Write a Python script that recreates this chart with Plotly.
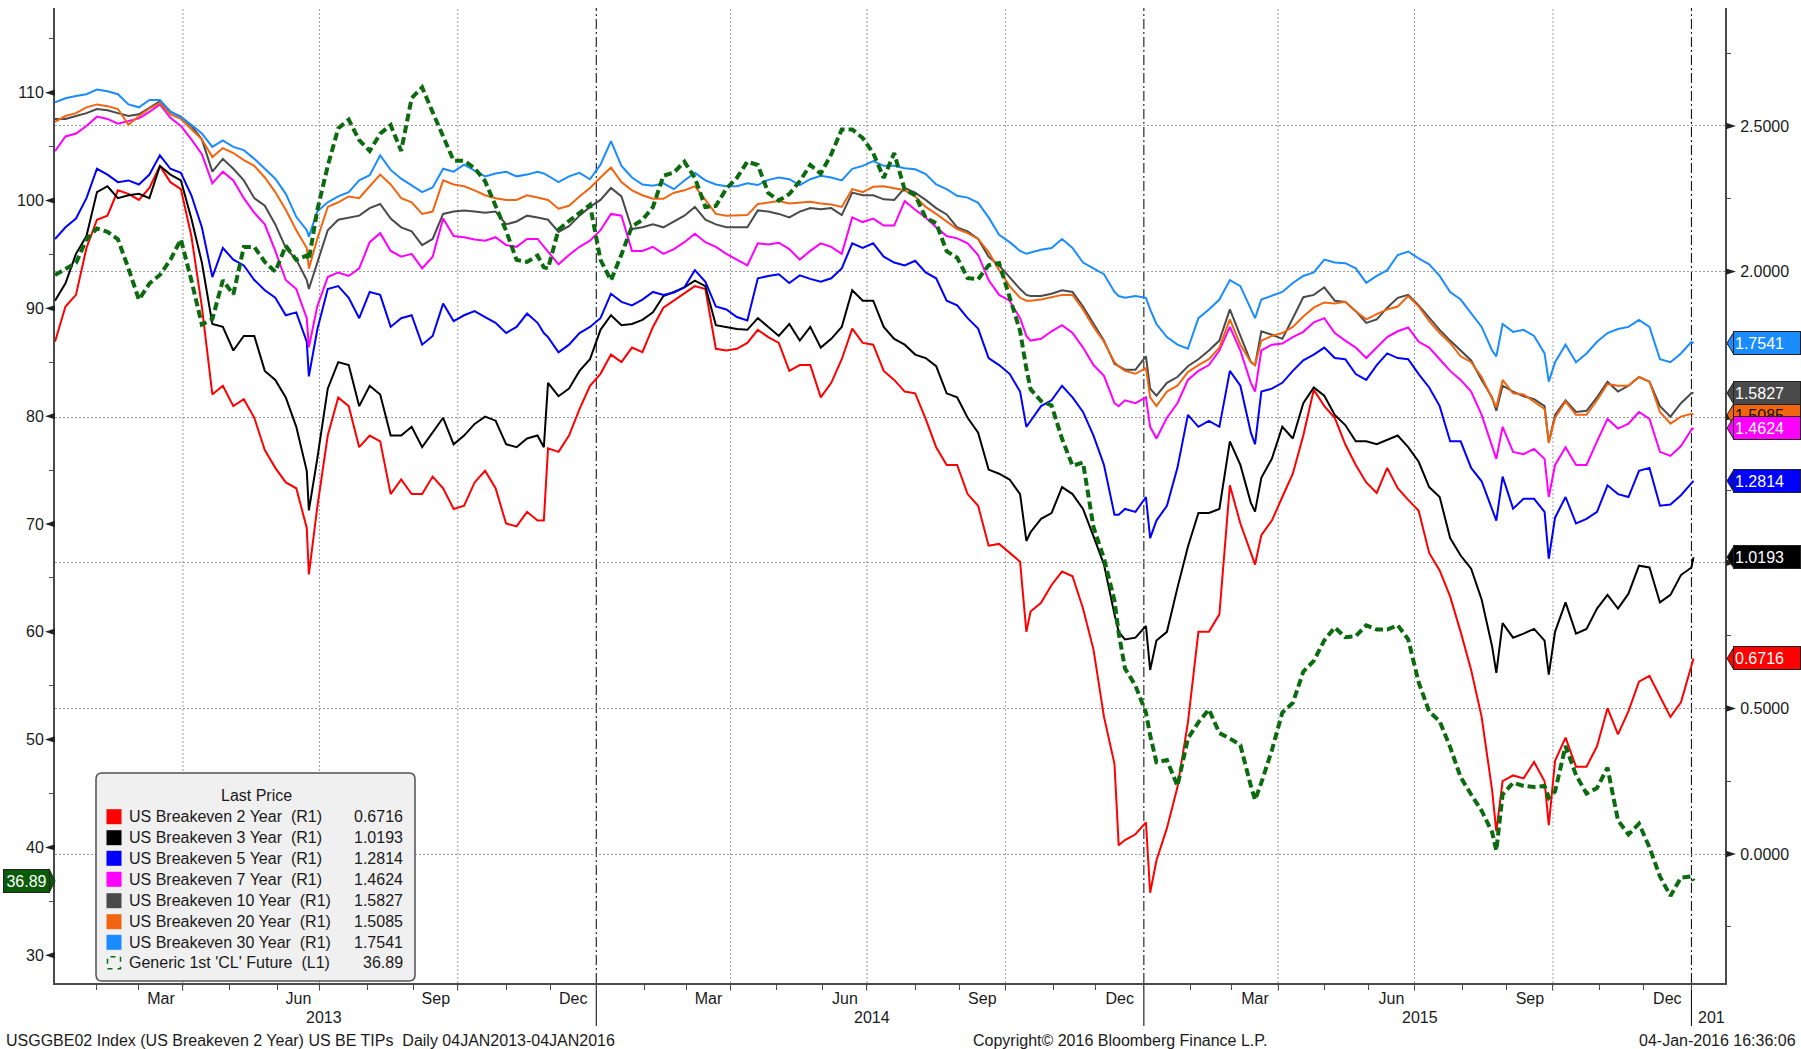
import pandas as pd
import plotly.graph_objects as go

# ---------------- data ----------------
# weekly readings: Fridays from 04-Jan-2013 to 01-Jan-2016 (157 points)
week_start = "2013-01-04"
n_weeks = 157
# extra readings at notable turning points plus the last day
extra_dates = ["2013-06-24", "2013-11-27", "2014-10-15", "2014-12-16", "2015-01-06",
               "2015-03-17", "2015-08-25", "2015-09-29", "2016-01-04"]

be2_w = [1.759, 1.880, 1.920, 2.081, 2.178, 2.192, 2.279, 2.267, 2.246, 2.287,
         2.363, 2.307, 2.283, 2.122, 1.880, 1.578, 1.608, 1.538, 1.562, 1.498,
         1.387, 1.326, 1.276, 1.256, 1.120, 1.190, 1.437, 1.568, 1.538, 1.397,
         1.437, 1.417, 1.236, 1.286, 1.236, 1.236, 1.296, 1.256, 1.185, 1.196,
         1.276, 1.316, 1.256, 1.135, 1.125, 1.175, 1.145, 1.393, 1.381, 1.437,
         1.528, 1.608, 1.649, 1.715, 1.689, 1.739, 1.723, 1.810, 1.876, 1.900,
         1.924, 1.950, 1.940, 1.735, 1.729, 1.735, 1.755, 1.800, 1.775, 1.755,
         1.659, 1.679, 1.679, 1.568, 1.618, 1.699, 1.804, 1.755, 1.749, 1.659,
         1.628, 1.588, 1.582, 1.494, 1.397, 1.336, 1.336, 1.236, 1.196, 1.059,
         1.065, 1.035, 1.004, 0.833, 0.863, 0.924, 0.970, 0.954, 0.843, 0.702,
         0.471, 0.310, 0.048, 0.068, 0.109, -0.022, 0.089, 0.229, 0.451, 0.763,
         0.763, 0.823, 1.266, 1.135, 1.035, 1.095, 1.145, 1.226, 1.306, 1.437,
         1.594, 1.538, 1.498, 1.407, 1.336, 1.276, 1.240, 1.326, 1.256, 1.216,
         1.179, 1.034, 0.974, 0.884, 0.763, 0.632, 0.471, 0.219, 0.250, 0.270,
         0.260, 0.316, 0.250, 0.320, 0.400, 0.300, 0.300, 0.370, 0.501, 0.411,
         0.491, 0.592, 0.612, 0.541, 0.471, 0.521, 0.652]
be2_x = [0.96, 1.145, 0.763, 0.03, -0.133, 0.994, 0.078, 0.099, 0.6716]

be3_w = [1.900, 1.960, 2.061, 2.122, 2.273, 2.293, 2.252, 2.262, 2.267, 2.252,
         2.363, 2.333, 2.313, 2.182, 2.031, 1.820, 1.810, 1.729, 1.779, 1.779,
         1.659, 1.628, 1.568, 1.467, 1.316, 1.357, 1.598, 1.689, 1.679, 1.538,
         1.608, 1.578, 1.437, 1.437, 1.467, 1.397, 1.447, 1.498, 1.407, 1.437,
         1.477, 1.502, 1.488, 1.407, 1.397, 1.427, 1.437, 1.618, 1.572, 1.598,
         1.659, 1.699, 1.800, 1.850, 1.816, 1.820, 1.834, 1.860, 1.916, 1.930,
         1.946, 1.969, 1.950, 1.816, 1.810, 1.803, 1.800, 1.840, 1.810, 1.779,
         1.820, 1.763, 1.810, 1.739, 1.769, 1.810, 1.936, 1.900, 1.900, 1.810,
         1.769, 1.749, 1.715, 1.703, 1.675, 1.582, 1.568, 1.498, 1.447, 1.320,
         1.306, 1.286, 1.236, 1.105, 1.151, 1.171, 1.260, 1.236, 1.185, 1.091,
         0.994, 0.823, 0.737, 0.743, 0.783, 0.733, 0.763, 0.914, 1.055, 1.171,
         1.171, 1.185, 1.417, 1.336, 1.206, 1.292, 1.357, 1.467, 1.427, 1.548,
         1.602, 1.574, 1.508, 1.473, 1.417, 1.417, 1.407, 1.421, 1.437, 1.397,
         1.347, 1.260, 1.226, 1.085, 1.025, 0.980, 0.874, 0.713, 0.793, 0.743,
         0.757, 0.773, 0.733, 0.763, 0.864, 0.757, 0.773, 0.843, 0.890, 0.843,
         0.894, 0.990, 0.984, 0.864, 0.890, 0.958, 0.984]
be3_x = [1.18, 1.397, 1.075, 0.763, 0.632, 1.176, 0.622, 0.616, 1.0193]

be5_w = [2.112, 2.152, 2.182, 2.252, 2.353, 2.333, 2.307, 2.313, 2.299, 2.333,
         2.399, 2.353, 2.339, 2.262, 2.152, 1.981, 2.081, 2.041, 2.021, 1.971,
         1.936, 1.910, 1.850, 1.860, 1.759, 1.800, 1.940, 1.950, 1.910, 1.840,
         1.930, 1.920, 1.810, 1.840, 1.850, 1.749, 1.779, 1.890, 1.830, 1.850,
         1.864, 1.844, 1.824, 1.789, 1.810, 1.856, 1.824, 1.775, 1.723, 1.749,
         1.789, 1.810, 1.840, 1.924, 1.896, 1.884, 1.904, 1.930, 1.920, 1.928,
         1.946, 2.005, 1.965, 1.880, 1.870, 1.844, 1.832, 1.977, 1.985, 1.991,
         1.961, 1.987, 1.975, 1.965, 1.977, 2.011, 2.097, 2.081, 2.097, 2.051,
         2.031, 2.021, 2.037, 1.997, 1.977, 1.900, 1.884, 1.840, 1.804, 1.703,
         1.679, 1.649, 1.588, 1.487, 1.538, 1.558, 1.608, 1.568, 1.518, 1.437,
         1.336, 1.165, 1.185, 1.175, 1.226, 1.145, 1.196, 1.326, 1.508, 1.467,
         1.487, 1.467, 1.659, 1.608, 1.447, 1.588, 1.598, 1.618, 1.659, 1.695,
         1.715, 1.739, 1.703, 1.699, 1.648, 1.628, 1.679, 1.719, 1.703, 1.699,
         1.648, 1.602, 1.538, 1.417, 1.417, 1.326, 1.280, 1.186, 1.296, 1.186,
         1.220, 1.220, 1.175, 1.155, 1.226, 1.135, 1.151, 1.175, 1.266, 1.236,
         1.226, 1.316, 1.326, 1.196, 1.200, 1.232, 1.276]
be5_x = [1.64, 1.789, 1.467, 1.165, 1.085, 1.407, 1.145, 1.014, 1.2814]

be7_w = [2.413, 2.464, 2.474, 2.500, 2.532, 2.524, 2.508, 2.516, 2.526, 2.548,
         2.574, 2.528, 2.500, 2.454, 2.403, 2.303, 2.343, 2.313, 2.252, 2.202,
         2.162, 2.071, 1.971, 1.940, 1.840, 1.880, 1.981, 1.997, 1.985, 2.011,
         2.101, 2.132, 2.071, 2.051, 2.061, 2.011, 2.051, 2.182, 2.122, 2.118,
         2.110, 2.106, 2.118, 2.091, 2.085, 2.112, 2.112, 2.071, 2.025, 2.057,
         2.085, 2.106, 2.142, 2.198, 2.192, 2.071, 2.071, 2.085, 2.061, 2.077,
         2.101, 2.130, 2.101, 2.085, 2.061, 2.041, 2.021, 2.097, 2.093, 2.099,
         2.077, 2.041, 2.071, 2.097, 2.085, 2.061, 2.186, 2.170, 2.182, 2.158,
         2.158, 2.242, 2.212, 2.186, 2.152, 2.122, 2.114, 2.097, 2.057, 1.971,
         1.920, 1.900, 1.840, 1.763, 1.769, 1.795, 1.816, 1.789, 1.739, 1.679,
         1.642, 1.548, 1.558, 1.548, 1.568, 1.427, 1.498, 1.548, 1.628, 1.659,
         1.679, 1.729, 1.810, 1.729, 1.618, 1.729, 1.749, 1.753, 1.775, 1.793,
         1.826, 1.840, 1.789, 1.763, 1.739, 1.703, 1.739, 1.775, 1.795, 1.808,
         1.759, 1.739, 1.699, 1.659, 1.628, 1.588, 1.508, 1.397, 1.467, 1.381,
         1.373, 1.391, 1.357, 1.336, 1.397, 1.336, 1.336, 1.417, 1.494, 1.461,
         1.478, 1.518, 1.494, 1.381, 1.367, 1.401, 1.457]
be7_x = [1.74, 2.085, 1.779, 1.538, 1.467, 1.588, 1.357, 1.226, 1.4624]

be10_w = [2.524, 2.524, 2.534, 2.544, 2.558, 2.554, 2.544, 2.534, 2.540, 2.564,
          2.585, 2.548, 2.532, 2.500, 2.454, 2.343, 2.387, 2.353, 2.313, 2.252,
          2.226, 2.162, 2.081, 2.041, 1.971, 2.031, 2.142, 2.178, 2.186, 2.192,
          2.218, 2.232, 2.182, 2.152, 2.138, 2.091, 2.112, 2.198, 2.206, 2.210,
          2.206, 2.202, 2.206, 2.162, 2.172, 2.192, 2.186, 2.178, 2.136, 2.156,
          2.192, 2.222, 2.246, 2.287, 2.258, 2.146, 2.152, 2.162, 2.152, 2.172,
          2.192, 2.222, 2.178, 2.162, 2.152, 2.152, 2.152, 2.210, 2.206, 2.198,
          2.186, 2.206, 2.218, 2.214, 2.218, 2.194, 2.271, 2.262, 2.262, 2.248,
          2.246, 2.287, 2.271, 2.246, 2.218, 2.196, 2.152, 2.138, 2.112, 2.051,
          2.021, 1.981, 1.940, 1.916, 1.916, 1.924, 1.936, 1.930, 1.880, 1.820,
          1.763, 1.683, 1.663, 1.663, 1.709, 1.574, 1.618, 1.638, 1.675, 1.699,
          1.729, 1.763, 1.870, 1.779, 1.689, 1.795, 1.783, 1.769, 1.840, 1.912,
          1.920, 1.946, 1.900, 1.896, 1.864, 1.824, 1.836, 1.876, 1.910, 1.920,
          1.884, 1.840, 1.800, 1.763, 1.729, 1.695, 1.628, 1.568, 1.608, 1.588,
          1.572, 1.562, 1.538, 1.508, 1.558, 1.518, 1.522, 1.568, 1.622, 1.588,
          1.608, 1.638, 1.622, 1.538, 1.502, 1.548, 1.582]
be10_x = [1.94, 2.182, 1.920, 1.675, 1.598, 1.679, 1.522, 1.413, 1.5827]

be20_w = [2.514, 2.534, 2.544, 2.564, 2.574, 2.568, 2.558, 2.504, 2.534, 2.560,
          2.579, 2.540, 2.524, 2.488, 2.454, 2.393, 2.424, 2.407, 2.383, 2.363,
          2.323, 2.273, 2.212, 2.142, 2.081, 2.112, 2.222, 2.238, 2.258, 2.252,
          2.293, 2.333, 2.299, 2.252, 2.238, 2.198, 2.206, 2.313, 2.299, 2.293,
          2.279, 2.262, 2.252, 2.246, 2.246, 2.262, 2.254, 2.246, 2.216, 2.226,
          2.258, 2.287, 2.323, 2.357, 2.307, 2.279, 2.262, 2.250, 2.250, 2.271,
          2.279, 2.293, 2.246, 2.198, 2.192, 2.192, 2.194, 2.232, 2.238, 2.242,
          2.234, 2.238, 2.240, 2.234, 2.230, 2.222, 2.283, 2.273, 2.291, 2.293,
          2.287, 2.279, 2.258, 2.222, 2.198, 2.172, 2.146, 2.132, 2.112, 2.067,
          2.005, 1.950, 1.910, 1.900, 1.904, 1.912, 1.920, 1.920, 1.870, 1.810,
          1.759, 1.689, 1.659, 1.649, 1.669, 1.538, 1.588, 1.608, 1.655, 1.679,
          1.699, 1.739, 1.836, 1.749, 1.689, 1.763, 1.779, 1.789, 1.810, 1.846,
          1.876, 1.894, 1.890, 1.896, 1.864, 1.836, 1.854, 1.870, 1.880, 1.916,
          1.880, 1.830, 1.789, 1.755, 1.709, 1.689, 1.638, 1.562, 1.628, 1.582,
          1.578, 1.554, 1.528, 1.498, 1.554, 1.508, 1.508, 1.558, 1.614, 1.608,
          1.608, 1.638, 1.622, 1.518, 1.478, 1.502, 1.512]
be20_x = [2.01, 2.250, 1.900, 1.675, 1.568, 1.679, 1.534, 1.413, 1.5085]

be30_w = [2.581, 2.595, 2.603, 2.609, 2.625, 2.619, 2.609, 2.574, 2.564, 2.589,
          2.589, 2.550, 2.530, 2.504, 2.474, 2.428, 2.450, 2.428, 2.417, 2.387,
          2.353, 2.319, 2.267, 2.188, 2.142, 2.206, 2.238, 2.258, 2.273, 2.313,
          2.331, 2.399, 2.349, 2.319, 2.297, 2.273, 2.289, 2.353, 2.343, 2.367,
          2.347, 2.327, 2.337, 2.343, 2.327, 2.333, 2.343, 2.329, 2.307, 2.327,
          2.339, 2.317, 2.367, 2.448, 2.363, 2.323, 2.299, 2.295, 2.303, 2.283,
          2.313, 2.339, 2.313, 2.299, 2.293, 2.293, 2.303, 2.297, 2.315, 2.323,
          2.317, 2.297, 2.317, 2.329, 2.323, 2.313, 2.353, 2.363, 2.379, 2.363,
          2.363, 2.355, 2.351, 2.335, 2.299, 2.283, 2.260, 2.254, 2.236, 2.186,
          2.126, 2.101, 2.071, 2.065, 2.075, 2.081, 2.112, 2.081, 2.031, 2.011,
          1.991, 1.930, 1.910, 1.916, 1.910, 1.820, 1.775, 1.749, 1.735, 1.840,
          1.870, 1.904, 1.971, 1.950, 1.870, 1.904, 1.916, 1.930, 1.961, 1.985,
          1.997, 2.041, 2.031, 2.029, 2.011, 1.961, 1.985, 2.005, 2.057, 2.069,
          2.045, 2.025, 1.985, 1.930, 1.904, 1.856, 1.810, 1.729, 1.820, 1.793,
          1.800, 1.779, 1.719, 1.689, 1.749, 1.689, 1.719, 1.759, 1.789, 1.803,
          1.810, 1.834, 1.810, 1.699, 1.689, 1.719, 1.759]
be30_x = [2.12, 2.337, 2.061, 1.916, 1.870, 1.840, 1.709, 1.622, 1.7541]

cl_w = [93.1, 93.7, 94.2, 96.4, 97.4, 97.1, 96.4, 93.7, 90.8, 92.3,
        93.1, 94.5, 96.4, 92.6, 88.5, 89.0, 92.6, 91.3, 95.7, 95.7,
        94.3, 93.4, 95.8, 94.5, 94.9, 99.1, 103.2, 106.7, 107.5, 105.6,
        104.6, 106.2, 107.0, 104.6, 109.5, 110.5, 108.2, 105.9, 103.7, 103.7,
        103.0, 101.8, 99.5, 97.2, 94.5, 94.3, 94.9, 93.7, 97.3, 98.1,
        98.8, 99.6, 94.5, 92.6, 95.0, 97.6, 98.2, 99.4, 102.3, 102.6,
        103.6, 102.1, 99.4, 99.5, 101.1, 102.1, 103.6, 103.3, 100.7, 100.0,
        100.6, 101.8, 103.3, 102.5, 104.3, 106.6, 106.6, 105.8, 104.4, 102.1,
        104.4, 101.0, 100.5, 98.4, 97.9, 95.3, 94.7, 92.8, 92.7, 94.0,
        94.2, 90.9, 87.9, 82.5, 81.4, 81.0, 77.9, 75.4, 75.7, 69.7,
        66.8, 62.9, 56.6, 55.0, 52.5, 47.9, 48.1, 45.7, 50.1, 51.6,
        52.8, 50.6, 50.1, 49.5, 45.7, 46.0, 49.0, 52.5, 53.4, 56.3,
        57.3, 59.2, 60.4, 59.5, 59.6, 60.6, 60.2, 60.2, 60.6, 59.3,
        55.3, 52.6, 51.7, 49.3, 46.5, 44.9, 43.4, 41.4, 44.9, 46.0,
        45.7, 45.6, 45.7, 45.2, 49.4, 46.7, 45.0, 45.5, 47.4, 42.5,
        41.2, 42.2, 40.0, 37.3, 35.5, 37.2, 37.3]
cl_x = [94.5, 93.8, 84.4, 59.9, 50.4, 44.4, 39.7, 44.6, 36.89]

be_names = ["US Breakeven 2 Year", "US Breakeven 3 Year", "US Breakeven 5 Year",
            "US Breakeven 7 Year", "US Breakeven 10 Year", "US Breakeven 20 Year",
            "US Breakeven 30 Year"]
cl_name = "Generic 1st 'CL' Future"
right_ticks = [0.0, 0.5, 1.0, 1.5, 2.0, 2.5]
left_ticks = [30, 40, 50, 60, 70, 80, 90, 100, 110]
month_label_months = [3, 6, 9, 12]
year_labels = ["2013", "2014", "2015"]

# ---------------- assemble the series tables ----------------
week_dates = list(pd.date_range(week_start, periods=n_weeks, freq="7D"))
all_dates = week_dates + list(pd.to_datetime(extra_dates))


def build(weekly, extra):
    assert len(weekly) == n_weeks and len(extra) == len(extra_dates)
    s = pd.Series(weekly + extra, index=all_dates).sort_index()
    return s


be_series = [build(w, x) for w, x in [(be2_w, be2_x), (be3_w, be3_x), (be5_w, be5_x),
                                      (be7_w, be7_x), (be10_w, be10_x), (be20_w, be20_x),
                                      (be30_w, be30_x)]]
cl_series = build(cl_w, cl_x)

# ---------------- styling / geometry ----------------
W, H = 1801, 1049
ML, MR, MT, MB = 55, 76, 8, 66
PW, PH = W - ML - MR, H - MT - MB
R_RANGE = [-0.4427, 2.905]
L_RANGE = [27.42, 117.86]
r_px = (R_RANGE[1] - R_RANGE[0]) / PH
l_px = (L_RANGE[1] - L_RANGE[0]) / PH


def fx(px):
    return (px - ML) / PW


def fy(py):
    return (H - MB - py) / PH


FONT = "Liberation Sans, Arial, sans-serif"
TXT = "#1a1a1a"
AXC = "#4a4a4a"
GRID = "#9a9a9a"
GREEN = "#0c6b0f"
GREEN_LBL = "#0a5a0a"
be_colors = ["#ff0000", "#000000", "#0000ff", "#ff00ff", "#4a4a4a", "#f26510", "#1a8cff"]

fig = go.Figure()
for n, s, c in zip(be_names, be_series, be_colors):
    fig.add_trace(go.Scatter(x=s.index, y=s.values, name=n, mode="lines", yaxis="y",
                             line=dict(color=c, width=2), showlegend=False, hoverinfo="skip"))
fig.add_trace(go.Scatter(x=cl_series.index, y=cl_series.values, name=cl_name, mode="lines",
                         yaxis="y2", line=dict(color=GREEN, width=4, dash="8px,4px"),
                         showlegend=False, hoverinfo="skip"))

# ---------------- x axis helpers ----------------
month_starts = list(pd.date_range("2013-02-01", "2016-01-01", freq="BMS"))
label_months = [m for m in pd.date_range("2013-01-01", "2015-12-01", freq="MS")
                if m.month in month_label_months]


def mid_month(m):
    b = pd.bdate_range(m, m + pd.offsets.MonthEnd(0))
    n = len(b)
    d = b[n // 2]
    if n % 2:
        d = d + pd.Timedelta(hours=12)
    return d


mids = [mid_month(m) for m in label_months]
quarter_lines = [m for m in month_starts if m.month in (4, 7, 10)]
year_lines = [m for m in month_starts if m.month == 1]

shapes = []
for q in quarter_lines:
    shapes.append(dict(type="line", xref="x", yref="paper", x0=q, x1=q, y0=fy(991), y1=1,
                       line=dict(color=GRID, width=1, dash="2px,2px"), layer="below"))
for yl in year_lines:
    shapes.append(dict(type="line", xref="x", yref="paper", x0=yl, x1=yl, y0=0, y1=1,
                       line=dict(color="#000000", width=1, dash="10px,3px,2px,3px"), layer="below"))
    shapes.append(dict(type="line", xref="x", yref="paper", x0=yl, x1=yl, y0=0, y1=fy(1026),
                       line=dict(color="#000000", width=1), layer="below"))

# axis tick wedges
lp = ""
for v in left_ticks:
    lp += f"M{fx(45)},{v} L{fx(55)},{v + 3.2 * l_px} L{fx(55)},{v - 3.2 * l_px} Z "
shapes.append(dict(type="path", xref="paper", yref="y2", path=lp, fillcolor="#222222",
                   line=dict(width=0), layer="above"))
rp = ""
for v in right_ticks:
    rp += f"M{fx(1736)},{v} L{fx(1726)},{v + 3.2 * r_px} L{fx(1726)},{v - 3.2 * r_px} Z "
shapes.append(dict(type="path", xref="paper", yref="y", path=rp, fillcolor="#222222",
                   line=dict(width=0), layer="above"))

annotations = []

# right-side last value labels (20Y sits beneath 10Y / 7Y as in the original)
label_order = [6, 5, 4, 3, 2, 1, 0]
label_fg = {0: "white", 1: "white", 2: "white", 3: "white", 4: "white", 5: "#111111", 6: "white"}
for i in label_order:
    v = float(be_series[i].iloc[-1])
    c = be_colors[i]
    shapes.append(dict(type="path", xref="paper", yref="y",
                       path=f"M{fx(1727)},{v} L{fx(1734)},{v + 11.5 * r_px} L{fx(1734)},{v - 11.5 * r_px} Z",
                       fillcolor=c, line=dict(color="#222222", width=1), layer="above"))
    annotations.append(dict(xref="paper", yref="y", x=fx(1733), y=v, xanchor="left", yanchor="middle",
                            text=f"{v:.4f}", showarrow=False, align="left",
                            font=dict(family=FONT, size=16, color=label_fg[i]),
                            bgcolor=c, bordercolor="#222222", borderwidth=1, borderpad=1,
                            width=64, height=20))

# left-side last value label
vcl = float(cl_series.iloc[-1])
shapes.append(dict(type="path", xref="paper", yref="y2",
                   path=f"M{fx(55)},{vcl} L{fx(49)},{vcl + 12 * l_px} L{fx(49)},{vcl - 12 * l_px} Z",
                   fillcolor=GREEN_LBL, line=dict(color="#222222", width=1), layer="above"))
annotations.append(dict(xref="paper", yref="y2", x=fx(50), y=vcl, xanchor="right", yanchor="middle",
                        text=f"{vcl:.2f}", showarrow=False, align="center",
                        font=dict(family=FONT, size=16, color="white"),
                        bgcolor=GREEN_LBL, bordercolor="#222222", borderwidth=1, borderpad=1,
                        width=43, height=20))


# ---------------- legend box ----------------
def rrect(x0, y0, x1, y1, r):
    pts = [
        ("M", (x0 + r, y0)), ("L", (x1 - r, y0)), ("Q", (x1, y0), (x1, y0 + r)),
        ("L", (x1, y1 - r)), ("Q", (x1, y1), (x1 - r, y1)), ("L", (x0 + r, y1)),
        ("Q", (x0, y1), (x0, y1 - r)), ("L", (x0, y0 + r)), ("Q", (x0, y0), (x0 + r, y0)),
    ]
    s = ""
    for p in pts:
        coords = " ".join(f"{fx(a)},{fy(b)}" for a, b in p[1:])
        s += f"{p[0]}{coords} "
    return s + "Z"


shapes.append(dict(type="path", xref="paper", yref="paper", path=rrect(96, 773, 415, 981, 6),
                   fillcolor="#f0f0f0", line=dict(color="#505050", width=1.5), layer="above"))
annotations.append(dict(xref="paper", yref="paper", x=fx(256), y=fy(795), text="Last Price",
                        showarrow=False, xanchor="center", yanchor="middle",
                        font=dict(family=FONT, size=16, color=TXT)))
row_y = [816.7, 837.7, 858.3, 879.3, 900.7, 921.7, 942.3, 962.7]
for k in range(7):
    yc = row_y[k]
    shapes.append(dict(type="rect", xref="paper", yref="paper", x0=fx(106.5), x1=fx(121.5),
                       y0=fy(yc + 7.5), y1=fy(yc - 7.5), fillcolor=be_colors[k],
                       line=dict(width=0), layer="above"))
    annotations.append(dict(xref="paper", yref="paper", x=fx(126.5), y=fy(yc),
                            text=f"{be_names[k]}  (R1)", showarrow=False,
                            xanchor="left", yanchor="middle", font=dict(family=FONT, size=16, color=TXT)))
    annotations.append(dict(xref="paper", yref="paper", x=fx(405), y=fy(yc),
                            text=f"{float(be_series[k].iloc[-1]):.4f}", showarrow=False,
                            xanchor="right", yanchor="middle", font=dict(family=FONT, size=16, color=TXT)))
yc = row_y[7]
shapes.append(dict(type="rect", xref="paper", yref="paper", x0=fx(107.5), x1=fx(120.5),
                   y0=fy(yc + 6), y1=fy(yc - 6), fillcolor="rgba(0,0,0,0)",
                   line=dict(color=GREEN, width=1.5, dash="5px,5px"), layer="above"))
annotations.append(dict(xref="paper", yref="paper", x=fx(126.5), y=fy(yc),
                        text=f"{cl_name}  (L1)", showarrow=False,
                        xanchor="left", yanchor="middle", font=dict(family=FONT, size=16, color=TXT)))
annotations.append(dict(xref="paper", yref="paper", x=fx(405), y=fy(yc), text=f"{vcl:.2f}",
                        showarrow=False, xanchor="right", yanchor="middle",
                        font=dict(family=FONT, size=16, color=TXT)))

# ---------------- year labels & footer ----------------
for yl in year_labels:
    annotations.append(dict(xref="x", yref="paper", x=f"{yl}-07-02", xshift=3, y=fy(1017), text=yl,
                            showarrow=False, xanchor="center", yanchor="middle",
                            font=dict(family=FONT, size=16, color=TXT)))
annotations.append(dict(xref="x", yref="paper", x="2016-01-01", xshift=5, y=fy(1017), text="201",
                        showarrow=False, xanchor="left", yanchor="middle",
                        font=dict(family=FONT, size=16, color=TXT)))
annotations.append(dict(xref="paper", yref="paper", x=fx(4), y=fy(1040),
                        text="USGGBE02 Index (US Breakeven 2 Year) US BE TIPs  Daily 04JAN2013-04JAN2016",
                        showarrow=False, xanchor="left", yanchor="middle",
                        font=dict(family=FONT, size=16, color=TXT)))
annotations.append(dict(xref="paper", yref="paper", x=fx(1120), y=fy(1040),
                        text="Copyright\u00a9 2016 Bloomberg Finance L.P.",
                        showarrow=False, xanchor="center", yanchor="middle",
                        font=dict(family=FONT, size=16, color=TXT)))
annotations.append(dict(xref="paper", yref="paper", x=fx(1798), y=fy(1040),
                        text="04-Jan-2016 16:36:06",
                        showarrow=False, xanchor="right", yanchor="middle",
                        font=dict(family=FONT, size=16, color=TXT)))

minor_r = [v + 0.25 for v in [-0.5] + right_ticks]
minor_l = [v + 5 for v in [20] + left_ticks]

fig.update_layout(
    width=W, height=H,
    margin=dict(l=ML, r=MR, t=MT, b=MB, pad=0),
    paper_bgcolor="white", plot_bgcolor="white",
    font=dict(family=FONT, size=16, color=TXT),
    showlegend=False,
    xaxis=dict(
        type="date", range=["2013-01-04", "2016-01-25"],
        rangebreaks=[dict(bounds=["sat", "mon"])],
        tickmode="array", tickvals=mids, ticktext=[m.strftime("%b") for m in label_months],
        ticks="",
        minor=dict(tickmode="array", tickvals=month_starts, ticks="outside", ticklen=5,
                   tickwidth=1, tickcolor=AXC, showgrid=False),
        showgrid=False, zeroline=False, showline=True, linecolor=AXC, linewidth=2,
        tickfont=dict(family=FONT, size=16, color=TXT), fixedrange=True,
    ),
    yaxis=dict(
        side="right", range=R_RANGE, tickmode="array", tickvals=right_ticks,
        ticktext=[f"{v:.4f}" for v in right_ticks],
        ticks="outside", ticklen=10, tickcolor="rgba(0,0,0,0)",
        showgrid=True, gridcolor=GRID, gridwidth=1, griddash="2px,2px",
        minor=dict(tickmode="array", tickvals=minor_r, ticks="outside", ticklen=4,
                   tickwidth=1, tickcolor=AXC, showgrid=False),
        zeroline=False, showline=True, linecolor=AXC, linewidth=2,
        tickfont=dict(family=FONT, size=16, color=TXT), fixedrange=True,
    ),
    yaxis2=dict(
        overlaying="y", side="left", range=L_RANGE, tickmode="array", tickvals=left_ticks,
        ticktext=[str(v) for v in left_ticks],
        ticks="outside", ticklen=6, tickcolor="rgba(0,0,0,0)", showgrid=False,
        minor=dict(tickmode="array", tickvals=minor_l, ticks="outside", ticklen=4,
                   tickwidth=1, tickcolor=AXC, showgrid=False),
        zeroline=False, showline=True, linecolor=AXC, linewidth=2,
        tickfont=dict(family=FONT, size=16, color=TXT), fixedrange=True,
    ),
    shapes=shapes,
    annotations=annotations,
)

fig.write_html("out.html", config={"displayModeBar": False},
               post_script="document.body.style.margin='0';document.body.style.overflow='hidden';")
